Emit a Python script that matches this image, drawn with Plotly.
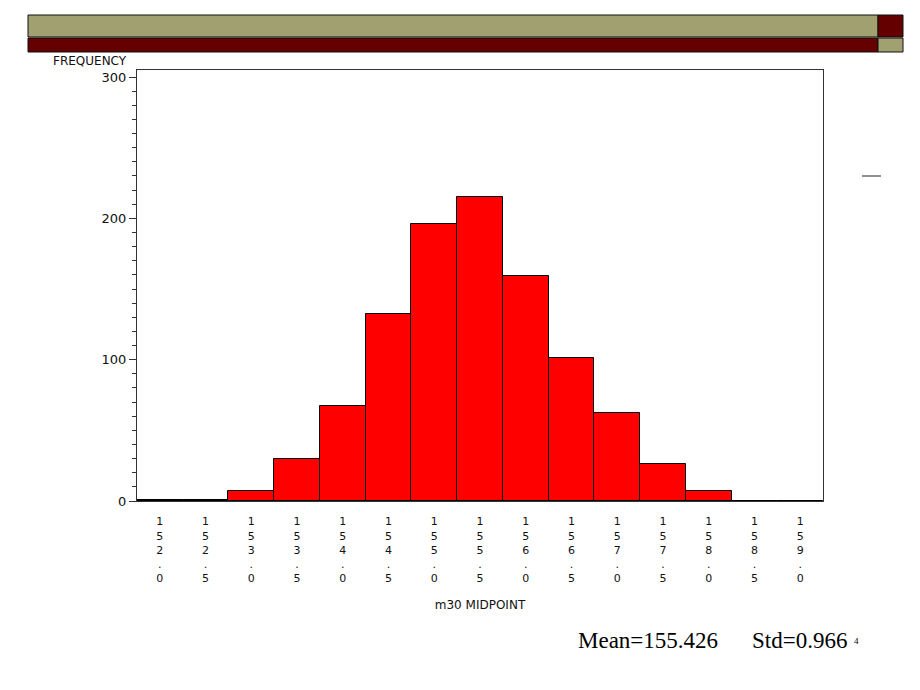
import plotly.graph_objects as go

# ---- data ----
midpoints = [152.0, 152.5, 153.0, 153.5, 154.0, 154.5, 155.0, 155.5,
             156.0, 156.5, 157.0, 157.5, 158.0, 158.5, 159.0]
frequency = [1, 1, 7, 30, 67, 132, 196, 215, 159, 101, 62, 26, 7, 0, 0]
tick_labels = ["152.0", "152.5", "153.0", "153.5", "154.0", "154.5", "155.0", "155.5",
               "156.0", "156.5", "157.0", "157.5", "158.0", "158.5", "159.0"]
y_ticks = [0, 100, 200, 300]
mean_text = "Mean=155.426"
std_text = "Std=0.966"
page_no = "4"

W, H = 920, 690
L, R, T, B = 137, 823, 70, 501  # plot area in pixels


def px(x):
    return (x - L) / (R - L)


def py(y):
    return (B - y) / (B - T)


stacked = ["<br>".join(list(s)) for s in tick_labels]

fig = go.Figure()
fig.add_trace(go.Bar(
    x=midpoints, y=frequency, width=0.5,
    marker=dict(color="#FF0000", line=dict(color="#000000", width=1)),
    hoverinfo="x+y",
))

fig.update_layout(
    width=W, height=H,
    margin=dict(l=L, r=W - R, t=T, b=H - B),
    paper_bgcolor="white", plot_bgcolor="white",
    showlegend=False, bargap=0,
    font=dict(family="DejaVu Sans", color="#111111"),
    xaxis=dict(
        range=[151.75, 159.25], tickmode="array", tickvals=midpoints,
        ticktext=stacked, ticks="", showgrid=False, zeroline=False,
        showline=True, linecolor="#333333", linewidth=1, mirror=True,
        ticklabelstandoff=10,
        tickfont=dict(size=11, family="DejaVu Sans", color="#111111"),
        title=dict(text="m30 MIDPOINT", font=dict(size=12, family="DejaVu Sans", color="#111111"),
                   standoff=16),
        fixedrange=True,
    ),
    yaxis=dict(
        range=[0, 305], tickmode="array", tickvals=y_ticks,
        ticks="outside", ticklen=7, tickcolor="#333333",
        minor=dict(dtick=10, ticks="outside", ticklen=4, tickcolor="#333333", showgrid=False),
        showgrid=False, zeroline=False,
        showline=True, linecolor="#333333", linewidth=1, mirror=True,
        tickfont=dict(size=13, family="DejaVu Sans", color="#111111"),
        fixedrange=True,
    ),
)

# y-axis title (top-left, SAS style)
fig.add_annotation(text="FREQUENCY", xref="paper", yref="paper",
                   x=px(128), y=py(61), xanchor="right", yanchor="middle",
                   showarrow=False, borderpad=0,
                   font=dict(size=12, family="DejaVu Sans", color="#111111"))

# statistics text
fig.add_annotation(text=mean_text, xref="paper", yref="paper",
                   x=px(576), y=py(640), xanchor="left", yanchor="middle",
                   showarrow=False, font=dict(size=23, family="Liberation Serif", color="black"))
fig.add_annotation(text=std_text, xref="paper", yref="paper",
                   x=px(750), y=py(640), xanchor="left", yanchor="middle",
                   showarrow=False, font=dict(size=23, family="Liberation Serif", color="black"))
fig.add_annotation(text=page_no, xref="paper", yref="paper",
                   x=px(852), y=py(641), xanchor="left", yanchor="middle",
                   showarrow=False, font=dict(size=9, family="Liberation Serif", color="black"))

# header decoration bands
olive = "#A0A070"
maroon = "#640000"
bands = [
    (28, 15, 878, 37, olive),
    (878, 15, 903, 37, maroon),
    (28, 38, 878, 52, maroon),
    (878, 38, 903, 52, olive),
]
for x0, y0, x1, y1, c in bands:
    fig.add_shape(type="rect", xref="paper", yref="paper",
                  x0=px(x0), x1=px(x1), y0=py(y0), y1=py(y1),
                  fillcolor=c, line=dict(color="#111111", width=1), layer="above")

# small dash at right
fig.add_shape(type="line", xref="paper", yref="paper",
              x0=px(862), x1=px(881), y0=py(176), y1=py(176),
              line=dict(color="#222222", width=1))

fig.write_html("out.html")
